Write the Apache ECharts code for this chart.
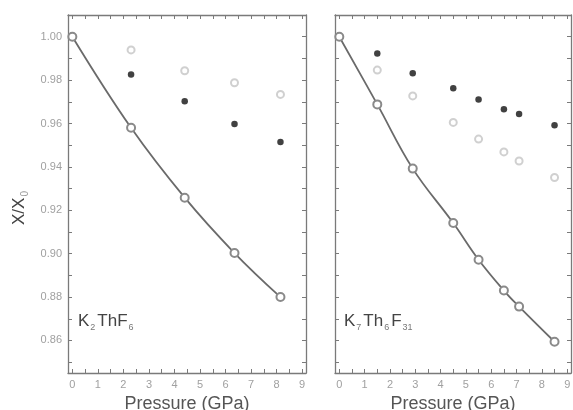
<!DOCTYPE html>
<html>
<head>
<meta charset="utf-8">
<script src="https://cdn.jsdelivr.net/npm/echarts@6/dist/echarts.min.js"></script>
<style>
  html, body { margin: 0; padding: 0; background: #fff; }
  #chart { width: 573px; height: 410px; }
</style>
</head>
<body>
<div id="chart"></div>
<script>
// K2ThF6: pressure (GPa) and relative values X/X0
const k2Pressure      = [0, 2.3, 4.4, 6.35, 8.15];
const k2Fit           = [1.000, 0.958, 0.9258, 0.9003, 0.880];
const k2Filled        = [null, 0.9826, 0.9703, 0.9598, 0.9515];
const k2Light         = [null, 0.9939, 0.9843, 0.9788, 0.9734];

// K7Th6F31: pressure (GPa) and relative values X/X0
const k7Pressure      = [0, 1.5, 2.9, 4.5, 5.5, 6.5, 7.1, 8.5];
const k7Fit           = [1.000, 0.9688, 0.9392, 0.9141, 0.8972, 0.883, 0.8756, 0.8594];
const k7Filled        = [null, 0.9923, 0.9832, 0.9762, 0.9711, 0.9666, 0.9644, 0.9592];
const k7Light         = [null, 0.9846, 0.9727, 0.9605, 0.9528, 0.9469, 0.9427, 0.9351];

// axis ticks
const xLabelValues = [0, 1, 2, 3, 4, 5, 6, 7, 8, 9];
const xTickValues  = [0, 0.5, 1, 1.5, 2, 2.5, 3, 3.5, 4, 4.5, 5, 5.5, 6, 6.5, 7, 7.5, 8, 8.5, 9];
const yLabelValues = [0.86, 0.88, 0.90, 0.92, 0.94, 0.96, 0.98, 1.00];
const yTickValues  = [0.85, 0.86, 0.87, 0.88, 0.89, 0.90, 0.91, 0.92, 0.93, 0.94, 0.95, 0.96, 0.97, 0.98, 0.99, 1.00];

const X_MIN = -0.17, X_MAX = 9.15;
const Y_MIN = 0.845, Y_MAX = 1.010;

const FRAME = '#7a7a7a';
const TICK_LABEL = '#a0a0a0';
const FONT = 'Liberation Sans';

function pairs(xs, ys) {
  const out = [];
  xs.forEach((x, i) => { if (ys[i] != null) out.push([x, ys[i]]); });
  return out;
}

function xAxisPair(gridIndex) {
  const common = {
    gridIndex, type: 'value', min: X_MIN, max: X_MAX,
    axisLine: { show: true, onZero: false, lineStyle: { color: FRAME, width: 1.3 } },
    axisTick: { show: true, inside: true, length: 4, customValues: xTickValues, lineStyle: { color: FRAME } },
    splitLine: { show: false }
  };
  return [
    Object.assign({}, common, {
      position: 'bottom',
      axisLabel: { show: true, customValues: xLabelValues, color: TICK_LABEL, fontSize: 11, margin: 6, fontFamily: FONT },
      name: 'Pressure (GPa)', nameLocation: 'middle', nameGap: 20,
      nameTextStyle: { color: '#555', fontSize: 18, fontFamily: FONT }
    }),
    Object.assign({}, common, { position: 'top', axisLabel: { show: false } })
  ];
}

function yAxisPair(gridIndex, showLabels) {
  const common = {
    gridIndex, type: 'value', min: Y_MIN, max: Y_MAX,
    axisLine: { show: true, onZero: false, lineStyle: { color: FRAME, width: 1.3 } },
    axisTick: { show: true, inside: true, length: 4, customValues: yTickValues, lineStyle: { color: FRAME } },
    splitLine: { show: false }
  };
  const left = Object.assign({}, common, {
    position: 'left',
    axisLabel: { show: showLabels, customValues: yLabelValues, color: TICK_LABEL, fontSize: 11, margin: 6,
                 fontFamily: FONT, formatter: v => v.toFixed(2) }
  });
  if (showLabels) {
    Object.assign(left, {
      name: '{x|X/X}{s|0}', nameLocation: 'middle', nameGap: 38, nameRotate: 90,
      nameTextStyle: {
        padding: [0, 28, 0, 0],
        rich: {
          x: { fontSize: 17, color: '#444', fontFamily: FONT },
          s: { fontSize: 10, color: '#999', fontFamily: FONT, padding: [12, 0, 0, 1] }
        }
      }
    });
  }
  return [left, Object.assign({}, common, { position: 'right', axisLabel: { show: false } })];
}

function panelSeries(base, xs, fit, filled, light) {
  return [
    {
      type: 'line', xAxisIndex: base, yAxisIndex: base, data: pairs(xs, fit), smooth: 0.4,
      symbol: 'emptyCircle', symbolSize: 8,
      lineStyle: { color: '#6a6a6a', width: 1.8 },
      itemStyle: { color: '#8a8a8a', borderWidth: 1.2 }, z: 3
    },
    {
      type: 'scatter', xAxisIndex: base, yAxisIndex: base, data: pairs(xs, filled),
      symbol: 'circle', symbolSize: 6.5, itemStyle: { color: '#111' }, z: 4
    },
    {
      type: 'scatter', xAxisIndex: base, yAxisIndex: base, data: pairs(xs, light),
      symbol: 'emptyCircle', symbolSize: 7,
      itemStyle: { color: '#c4c4c4', borderWidth: 1.2 }, z: 4
    }
  ];
}

const chart = echarts.init(document.getElementById('chart'), null, { renderer: 'canvas' });

const xAxes = [...xAxisPair(0), ...xAxisPair(1)];
const yAxes = [...yAxisPair(0, true), ...yAxisPair(1, false)];

const formulaRich = {
  b: { fontSize: 17, fill: '#444', fontFamily: FONT },
  s: { fontSize: 9, fill: '#777', fontFamily: FONT, padding: [13, 2, 0, 1] }
};

chart.setOption({
  backgroundColor: '#fff',
  animation: false,
  grid: [
    { left: 68, top: 15, width: 238, height: 358, containLabel: false, outerBoundsMode: 'none' },
    { left: 335, top: 15, width: 236, height: 358, containLabel: false, outerBoundsMode: 'none' }
  ],
  xAxis: xAxes,
  yAxis: yAxes,
  series: [
    ...panelSeries(0, k2Pressure, k2Fit, k2Filled, k2Light),
    ...panelSeries(2, k7Pressure, k7Fit, k7Filled, k7Light)
  ],
  graphic: [
    {
      type: 'text', left: 78, top: 313,
      style: { text: '{b|K}{s|2}{b|ThF}{s|6}', rich: formulaRich }
    },
    {
      type: 'text', left: 344, top: 313,
      style: { text: '{b|K}{s|7}{b|Th}{s|6}{b|F}{s|31}', rich: formulaRich }
    }
  ]
});
</script>
</body>
</html>
